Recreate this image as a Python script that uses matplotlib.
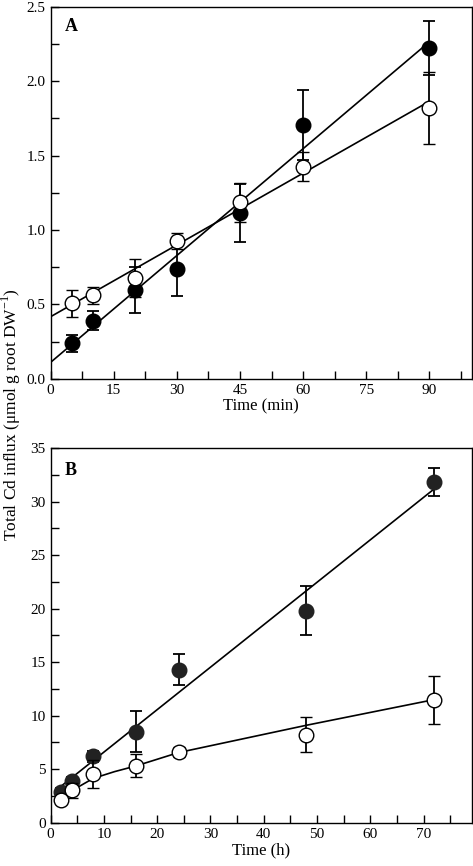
import numpy as np
import matplotlib
matplotlib.use("Agg")
import matplotlib.pyplot as plt
from matplotlib.ticker import MultipleLocator

plt.rcParams["font.family"] = ["Liberation Serif", "DejaVu Serif"]
plt.rcParams["mathtext.fontset"] = "custom"
plt.rcParams["mathtext.rm"] = "Liberation Serif"

# Panel A: time in minutes
time_a = [5, 10, 20, 30, 45, 60, 90]
filled_a = [0.237, 0.39, 0.596, 0.735, 1.111, 1.705, 2.224]
filled_a_err = [0.055, 0.063, 0.157, 0.177, 0.195, 0.235, 0.18]
open_a = [0.506, 0.56, 0.679, 0.927, 1.185, 1.425, 1.821]
open_a_err = [0.092, 0.058, 0.127, 0.056, 0.13, 0.097, 0.24]

# Panel B: time in hours
time_b = [2, 4, 8, 16, 24, 48, 72]
filled_b = [2.9, 3.9, 6.2, 8.5, 14.3, 19.8, 31.8]
filled_b_err = [0.3, 0.4, 0.5, 1.9, 1.45, 2.3, 1.3]
open_b = [2.12, 3.05, 4.55, 5.33, 6.6, 8.23, 11.44]
open_b_err = [0.35, 0.7, 1.3, 1.1, 0.5, 1.65, 2.25]

# curve drawn through the open symbols in B
open_b_fit_x = [2, 4, 8, 12, 16, 24, 48, 72]
open_b_fit_y = [2.2, 3.0, 4.14, 4.77, 5.3, 6.55, 9.1, 11.5]

fig = plt.figure(figsize=(4.73, 8.66), dpi=100)
ax_a = fig.add_axes([0.107, 0.5627, 0.89, 0.4293])
ax_b = fig.add_axes([0.107, 0.05, 0.89, 0.4327])

mk = dict(markersize=10.5, capsize=4, elinewidth=1.3, capthick=1.3, ls="none", ecolor="black")

# --- A ---
xa = np.array([0, 90])
for ys in (filled_a, open_a):
    k, b = np.polyfit(time_a, ys, 1)
    ax_a.plot(xa, k * xa + b, color="black", lw=1.2, zorder=2)
ax_a.errorbar(time_a, filled_a, yerr=filled_a_err, marker="o", mfc="black", mec="black", zorder=3, **mk)
ax_a.errorbar(time_a, open_a, yerr=open_a_err, marker="o", mfc="white", mec="black", mew=1.0, zorder=4, **mk)
ax_a.set_xlim(0, 100)
ax_a.set_ylim(0, 2.5)
ax_a.xaxis.set_major_locator(MultipleLocator(15))
ax_a.xaxis.set_minor_locator(MultipleLocator(7.5))
ax_a.yaxis.set_major_locator(MultipleLocator(0.5))
ax_a.yaxis.set_minor_locator(MultipleLocator(0.25))
ax_a.yaxis.set_major_formatter(plt.FormatStrFormatter("%.1f"))
ax_a.set_xlabel("Time (min)", fontsize=12, labelpad=1)
ax_a.text(0.034, 0.97, "A", transform=ax_a.transAxes, fontsize=13, fontweight="bold", va="top")

# --- B ---
xb = np.array([2, 72])
k, b = np.polyfit(time_b, filled_b, 1)
ax_b.plot(xb, k * xb + b, color="black", lw=1.2, zorder=2)
ax_b.plot(open_b_fit_x, open_b_fit_y, color="black", lw=1.2, zorder=2)
ax_b.errorbar(time_b, filled_b, yerr=filled_b_err, marker="o", mfc="#222222", mec="#222222", zorder=3, **mk)
ax_b.errorbar(time_b, open_b, yerr=open_b_err, marker="o", mfc="white", mec="black", mew=1.0, zorder=4, **mk)
ax_b.set_xlim(0, 79)
ax_b.set_ylim(0, 35)
ax_b.xaxis.set_major_locator(MultipleLocator(10))
ax_b.xaxis.set_minor_locator(MultipleLocator(5))
ax_b.yaxis.set_major_locator(MultipleLocator(5))
ax_b.yaxis.set_minor_locator(MultipleLocator(2.5))
ax_b.set_xlabel("Time (h)", fontsize=12, labelpad=1)
ax_b.text(0.034, 0.963, "B", transform=ax_b.transAxes, fontsize=13, fontweight="bold", va="top")

for ax in (ax_a, ax_b):
    ax.tick_params(which="both", direction="in", labelsize=11, width=1.0, length=6)
    ax.tick_params(axis="x", pad=4)
    for sp in ax.spines.values():
        sp.set_linewidth(1.0)

fig.text(0.025, 0.521, "Total Cd influx (\u03bcmol g root DW$^{-1}$)", rotation=90,
         ha="center", va="center", fontsize=12.5)

fig.savefig("out.png", dpi=100)
